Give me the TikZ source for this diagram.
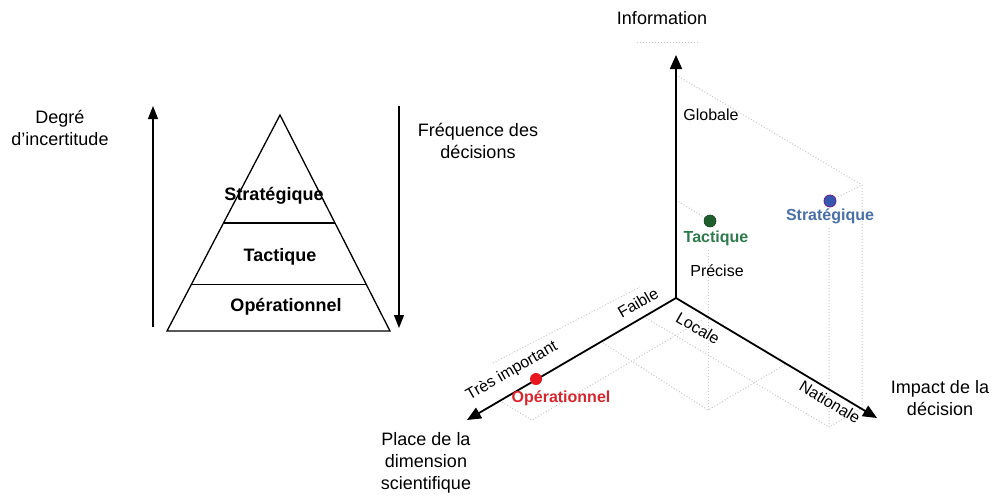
\documentclass[tikz,border=0pt]{standalone}
\usepackage{fontspec}
\setmainfont{Liberation Sans}
\usetikzlibrary{arrows.meta,calc}
\definecolor{redpt}{HTML}{E8161E}
\definecolor{redtxt}{HTML}{D8262E}
\definecolor{greenpt}{HTML}{1E5E2C}
\definecolor{greentxt}{HTML}{2E7A4E}
\definecolor{bluept}{HTML}{3558AE}
\definecolor{bluetxt}{HTML}{4A70A8}
\definecolor{guidegray}{HTML}{C8C8C8}
\begin{document}
\begin{tikzpicture}[x=1pt,y=-1pt,
  lab/.style={font=\fontsize{18}{22}\selectfont, align=center, inner sep=0pt},
  sml/.style={font=\fontsize{16}{19}\selectfont, inner sep=0pt},
  boldlab/.style={font=\fontsize{18}{21}\selectfont\bfseries, inner sep=0pt},
  ptlab/.style={font=\fontsize{16}{19}\selectfont\bfseries, inner sep=0pt},
  pyr/.style={line width=1.3pt, line join=miter},
  varrow/.style={line width=1.3pt, -{Triangle[length=13pt,width=10pt]}},
  axisline/.style={line width=1.8pt, -{Triangle[length=14pt,width=12pt]}},
  guide/.style={guidegray, dotted, line width=1pt},
  dot/.style={circle, inner sep=0pt, minimum size=12pt}
]
\useasboundingbox (0,0) rectangle (995,499);

% ---------- Left: pyramid ----------
\coordinate (apex) at (280,115);
\coordinate (bl) at (167,331);
\coordinate (br) at (390,331);
\draw[pyr] (apex) -- (bl) -- (br) -- cycle;
\draw[pyr] ($(apex)!0.5!(bl)$) -- ($(apex)!0.5!(br)$);
\draw[pyr] ($(apex)!0.7847!(bl)$) -- ($(apex)!0.7847!(br)$);

\node[boldlab] (strat) at (274,196) {Stratégique};
\node[boldlab] (tact) at (280,257) {Tactique};
\node[boldlab] (oper) at (286,307) {Opérationnel};

\coordinate (la0) at (153,327);
\coordinate (la1) at (153,106);
\draw[varrow] (la0) -- (la1);
\coordinate (ra0) at (399,106);
\coordinate (ra1) at (399,328);
\draw[varrow] (ra0) -- (ra1);

\node[lab] (incert) at (60,128) {Degré\\d’incertitude};
\node[lab] (freq) at (478,141) {Fréquence des\\décisions};

% ---------- Right: 3D axes ----------
\coordinate (O) at (676,298);
\coordinate (top) at (676,55);
\coordinate (lt) at (467,420);
\coordinate (rt) at (877,418);

% guide lines
\draw[guide] (637,42) -- (700,42);
\draw[guide] (676,75) -- (862,185) -- (862,408);
\draw[guide] (830,201) -- (862,185);
\draw[guide] (829,228) -- (829,427) -- (862,408);
\draw[guide] (646,318) -- (829,427);
\draw[guide] (676,200) -- (710,221);
\draw[guide] (708,250) -- (708,410);
\draw[guide] (603,343) -- (708,410) -- (786,364);
\draw[guide] (707,317) -- (532,420) -- (500,401);
\draw[guide] (493,363) -- (640,287);

\draw[axisline] (O) -- (top);
\draw[axisline] (O) -- (lt);
\draw[axisline] (O) -- (rt);

\node[lab] (info) at (662,18) {Information};
\node[lab] (impact) at (940,398) {Impact de la\\décision};
\node[lab] (place) at (426,463) {Place de la\\dimension\\scientifique};

\node[sml] (glob) at (711,115) {Globale};
\node[sml] (prec) at (717,271) {Précise};
\node[sml, rotate=30] (faible) at (638,303) {Faible};
\node[sml, rotate=30] (tres) at (512,371) {Très important};
\node[sml, rotate=-30] (locale) at (698,328) {Locale};
\node[sml, rotate=-31] (natio) at (830,402) {Nationale};

\node[dot, fill=greenpt, draw=greenpt!70!black, line width=0.6pt] (gdot) at (710,221) {};
\node[ptlab, text=greentxt] (gtxt) at (716,238) {Tactique};
\node[dot, fill=bluept, draw=violet!70!bluept, line width=0.8pt] (bdot) at (830,201) {};
\node[ptlab, text=bluetxt] (btxt) at (830,216) {Stratégique};
\node[dot, fill=redpt] (rdot) at (536,379) {};
\node[ptlab, text=redtxt] (rtxt) at (561,398) {Opérationnel};
\end{tikzpicture}
\end{document}
